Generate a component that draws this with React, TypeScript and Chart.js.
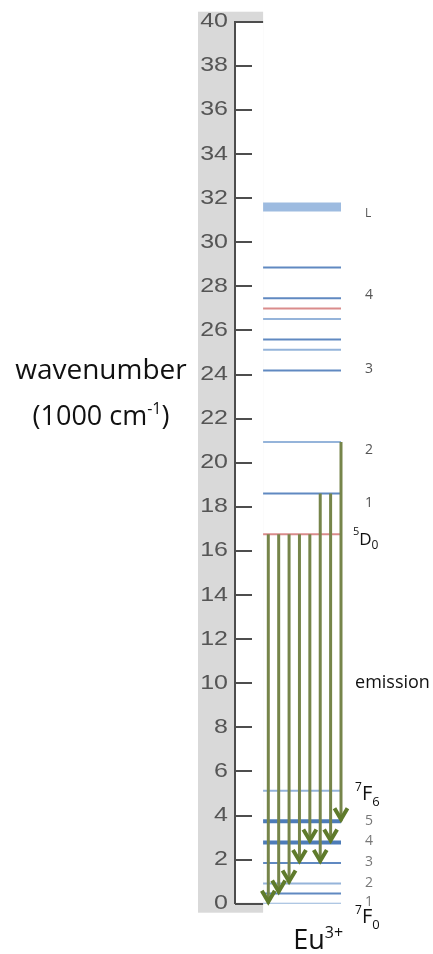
import React, { useEffect, useRef } from 'react';
import { Chart, registerables, LinearScale } from 'chart.js';

// Energy axis (units of 1000 cm⁻¹)
const energyMin = 0;
const energyMax = 40;
const energyStep = 2;

// Eu³⁺ levels, top to bottom
const levelEnergies = [31.6, 28.85, 27.46, 26.99, 26.52, 25.59, 25.12, 24.18, 20.94, 18.6, 16.76, 5.12, 3.74, 2.78, 1.85, 0.92, 0.46, 0];
const levelKinds = ['band', 'level', 'level', 'excited', 'pale', 'level', 'pale', 'level', 'pale', 'level', 'excited', 'pale', 'strong', 'strong', 'level', 'pale', 'level', 'pale'];

// Emission transitions: start level → end level
const arrowFrom = [16.76, 16.76, 16.76, 16.76, 16.76, 18.6, 18.6, 20.94];
const arrowTo = [0, 0.46, 0.92, 1.85, 2.78, 1.85, 2.78, 3.74];

// Level tags
const upperTags = ['L', '4', '3', '2', '1'];
const upperTagLevels = [31.6, 27.46, 24.18, 20.94, 18.6];
const groundTags = ['5', '4', '3', '2', '1'];
const groundTagLevels = [3.74, 2.78, 1.85, 0.92, 0.46];

const TICK_STRETCH = 1.25;
const LEVEL_START = -0.5;
const LEVEL_END = 7;
const TEXT_FONT = '"Open Sans", "Noto Sans", sans-serif';

class StretchedLinearScale extends LinearScale {
  static id = 'stretchedLinear';
  static defaults = LinearScale.defaults;
  drawLabels(chartArea: any) {
    const ctx = this.ctx;
    const anchor = this.right - (this.options.ticks.padding || 0);
    ctx.save();
    ctx.translate(anchor, 0);
    ctx.scale(TICK_STRETCH, 1);
    ctx.translate(-anchor, 0);
    super.drawLabels(chartArea);
    ctx.restore();
  }
}

Chart.register(...registerables, StretchedLinearScale);

const levelStyle: Record<string, { color: string; width: number }> = {
  band: { color: '#9dbbe0', width: 9 },
  level: { color: '#6089c1', width: 2 },
  pale: { color: '#95b4da', width: 2 },
  excited: { color: '#da8c8c', width: 2 },
  strong: { color: '#4d7cb8', width: 4 },
};

type Run = { t: string; size: number; dy?: number };

function drawRuns(ctx: CanvasRenderingContext2D, runs: Run[], x: number, y: number, align: 'left' | 'center', color: string) {
  ctx.save();
  ctx.fillStyle = color;
  ctx.textBaseline = 'alphabetic';
  ctx.textAlign = 'left';
  let total = 0;
  const widths = runs.map((r) => {
    ctx.font = `${r.size}px ${TEXT_FONT}`;
    const w = ctx.measureText(r.t).width;
    total += w;
    return w;
  });
  let cx = align === 'center' ? x - total / 2 : x;
  runs.forEach((r, i) => {
    ctx.font = `${r.size}px ${TEXT_FONT}`;
    ctx.fillText(r.t, cx, y + (r.dy || 0));
    cx += widths[i];
  });
  ctx.restore();
}

const diagramPlugin = {
  id: 'levelDiagram',
  beforeDraw(chart: any) {
    const { ctx, scales } = chart;
    const { x, y } = scales;
    const top = y.getPixelForValue(energyMax);
    const bottom = y.getPixelForValue(energyMin);
    const bandLeft = y.right - 37;
    const bandRight = x.getPixelForValue(LEVEL_START);
    ctx.save();
    ctx.fillStyle = '#d9d9d9';
    ctx.fillRect(bandLeft, top - 10, bandRight - bandLeft, bottom - top + 19);
    ctx.fillStyle = '#ffffff';
    ctx.fillRect(y.right, top + 1, bandRight - y.right, bottom - top - 2);
    ctx.restore();
  },
  beforeDatasetsDraw(chart: any) {
    const { ctx, scales } = chart;
    const { x, y } = scales;
    const axisX = y.right;
    const bandRight = x.getPixelForValue(LEVEL_START);
    ctx.save();
    ctx.strokeStyle = '#4d4d4d';
    ctx.lineWidth = 2;
    y.ticks.forEach((t: any) => {
      const py = Math.round(y.getPixelForValue(t.value));
      const long = t.value === energyMin || t.value === energyMax;
      ctx.beginPath();
      ctx.moveTo(axisX, py);
      ctx.lineTo(long ? bandRight : axisX + 17, py);
      ctx.stroke();
    });
    ctx.restore();
  },
  afterDatasetsDraw(chart: any) {
    const { ctx } = chart;
    ctx.save();
    ctx.strokeStyle = '#5f7b2c';
    ctx.lineWidth = 4;
    ctx.lineJoin = 'miter';
    chart.data.datasets.forEach((ds: any, i: number) => {
      if (ds.role !== 'arrow') return;
      const end = chart.getDatasetMeta(i).data[1];
      const tx = end.x;
      const ty = end.y - 2;
      ctx.beginPath();
      ctx.moveTo(tx - 6.5, ty - 11);
      ctx.lineTo(tx, ty);
      ctx.lineTo(tx + 6.5, ty - 11);
      ctx.stroke();
    });
    ctx.restore();
  },
  afterDraw(chart: any) {
    const { ctx, scales } = chart;
    const { x, y } = scales;
    const tagX = x.getPixelForValue(9.3);
    const termX = x.getPixelForValue(8.35);

    // axis title
    drawRuns(ctx, [{ t: 'wavenumber', size: 28 }], 101, y.getPixelForValue(24) + 4, 'center', '#111');
    drawRuns(ctx, [
      { t: '(1000 cm', size: 27 },
      { t: '-1', size: 16, dy: -11 },
      { t: ')', size: 27 },
    ], 101, y.getPixelForValue(22) + 6, 'center', '#111');

    // upper level tags
    const upperNudge = [7, -3, -2, 8, 9];
    upperTags.forEach((t, i) => {
      ctx.save();
      ctx.fillStyle = '#555';
      ctx.textBaseline = 'middle';
      ctx.font = `${t === 'L' ? 12 : 14}px ${TEXT_FONT}`;
      ctx.fillText(t, tagX, y.getPixelForValue(upperTagLevels[i]) + upperNudge[i]);
      ctx.restore();
    });

    // ground multiplet tags
    const groundNudge = [0, -1, -1, 0, 8];
    groundTags.forEach((t, i) => {
      ctx.save();
      ctx.fillStyle = '#777';
      ctx.textBaseline = 'middle';
      ctx.font = `14px ${TEXT_FONT}`;
      ctx.fillText(t, tagX, y.getPixelForValue(groundTagLevels[i]) + groundNudge[i]);
      ctx.restore();
    });

    // term symbols
    drawRuns(ctx, [
      { t: '5', size: 11, dy: -10 },
      { t: 'D', size: 17 },
      { t: '0', size: 12, dy: 4 },
    ], x.getPixelForValue(8.15), y.getPixelForValue(16.76) + 11, 'left', '#111');
    drawRuns(ctx, [
      { t: '7', size: 12, dy: -9 },
      { t: 'F', size: 20 },
      { t: '6', size: 13, dy: 6 },
    ], termX, y.getPixelForValue(5.12) + 9, 'left', '#111');
    drawRuns(ctx, [
      { t: '7', size: 12, dy: -9 },
      { t: 'F', size: 20 },
      { t: '0', size: 13, dy: 6 },
    ], termX, y.getPixelForValue(0) + 19, 'left', '#111');

    drawRuns(ctx, [{ t: 'emission', size: 18 }], termX, y.getPixelForValue(10) + 5, 'left', '#111');
    drawRuns(ctx, [
      { t: 'Eu', size: 27 },
      { t: '3+', size: 16, dy: -11 },
    ], x.getPixelForValue(2.4), y.getPixelForValue(0) + 45, 'left', '#111');
  },
};

export default function App() {
  const canvasRef = useRef<HTMLCanvasElement | null>(null);

  useEffect(() => {
    const canvas = canvasRef.current;
    if (!canvas) return;

    const levelSets = levelEnergies.map((e, i) => {
      const st = levelStyle[levelKinds[i]];
      return {
        role: 'level',
        data: [{ x: LEVEL_START, y: e }, { x: LEVEL_END, y: e }],
        showLine: true,
        borderColor: st.color,
        borderWidth: st.width,
        borderCapStyle: 'butt',
        pointRadius: 0,
        order: 2,
      };
    });

    const arrowSets = arrowFrom.map((from, i) => ({
      role: 'arrow',
      data: [{ x: i, y: from }, { x: i, y: arrowTo[i] }],
      showLine: true,
      borderColor: '#76854a',
      borderWidth: 3,
      borderCapStyle: 'butt',
      pointRadius: 0,
      order: 1,
    }));

    const chart = new Chart(canvas, {
      type: 'scatter',
      data: { datasets: [...arrowSets, ...levelSets] as any },
      options: {
        animation: false,
        responsive: false,
        events: [],
        layout: { padding: { top: 21.7, bottom: 50.3, left: 0, right: 0 } },
        plugins: { legend: { display: false }, tooltip: { enabled: false } },
        scales: {
          x: { type: 'linear', display: false, min: -3.206, max: 15.858 },
          y: {
            type: 'stretchedLinear' as any,
            min: energyMin,
            max: energyMax,
            afterFit: (scale: any) => {
              scale.width = 235;
            },
            grid: { display: false, drawTicks: false },
            border: { display: true, color: '#4d4d4d', width: 2 },
            ticks: {
              stepSize: energyStep,
              padding: 7,
              color: '#555',
              font: { family: '"Liberation Sans", Arial, sans-serif', size: 20 },
            },
          },
        },
      },
      plugins: [diagramPlugin],
    });

    return () => chart.destroy();
  }, []);

  return (
    <div style={{ position: 'absolute', left: 0, top: 0, width: 433, height: 954, background: '#fff' }}>
      <canvas ref={canvasRef} width={433} height={954} />
    </div>
  );
}
